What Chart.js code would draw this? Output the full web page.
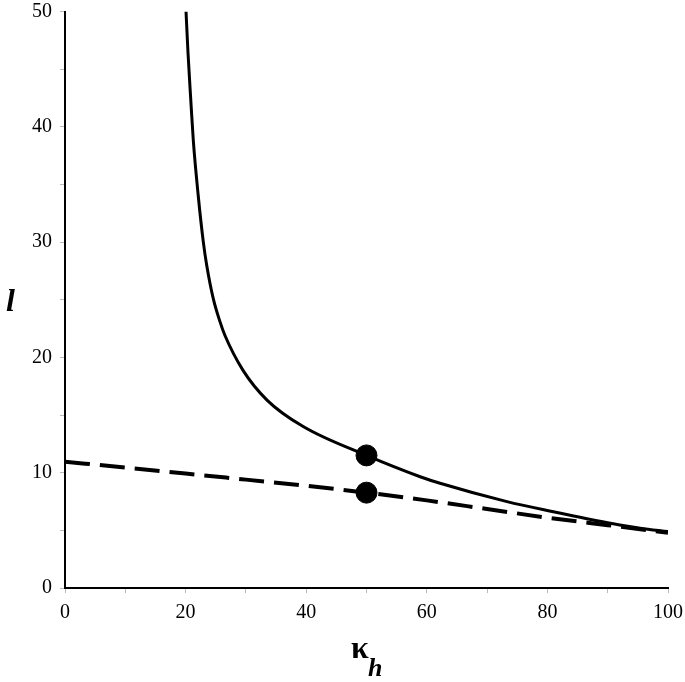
<!DOCTYPE html>
<html>
<head>
<meta charset="utf-8">
<script src="https://cdn.jsdelivr.net/npm/chart.js@4/dist/chart.umd.min.js"></script>
<style>
  html, body { margin: 0; padding: 0; background: #fff; }
  #wrap { width: 685px; height: 682px; }
</style>
</head>
<body>
<div id="wrap"><canvas id="chart"></canvas></div>
<script>
// ── Data ──────────────────────────────────────────────────
const solidX = [20.07, 20.4, 20.85, 21.28, 22.1, 22.94, 23.5, 24.59, 25.7, 26.53, 29.5, 33.5, 39.5, 50, 58.9, 62.2, 73.3, 81, 92, 95.4, 100];
const solidY = [50, 46.4, 42.4, 38.8, 34.0, 30.0, 28.0, 25.1, 23.1, 21.9, 18.9, 16.3, 14.0, 11.5, 9.65, 9.08, 7.49, 6.62, 5.47, 5.19, 4.89];

const dashX = [0, 10, 20, 30, 40, 50, 60, 70, 80, 90, 100];
const dashY = [10.95, 10.45, 9.93, 9.4, 8.87, 8.27, 7.6, 6.85, 6.1, 5.45, 4.8];

const markerX = [50, 50];
const markerY = [11.5, 8.27];

const xTickLabels = [0, 20, 40, 60, 80, 100];
const yTickLabels = [0, 10, 20, 30, 40, 50];

const pts = (xs, ys) => xs.map((x, i) => ({ x, y: ys[i] }));

// ── Axis titles (κ with subscript h, italic l) ────────────
const titlesPlugin = {
  id: "titles",
  afterDraw(chart) {
    const ctx = chart.ctx;
    ctx.save();
    ctx.fillStyle = "#000";
    ctx.textBaseline = "alphabetic";
    ctx.textAlign = "left";
    ctx.font = "bold 32px 'Liberation Serif'";
    ctx.fillText("κ", 351, 658);
    ctx.font = "bold italic 26px 'Liberation Serif'";
    ctx.fillText("h", 368, 676);
    ctx.font = "bold italic 32px 'Liberation Serif'";
    ctx.fillText("l", 6, 311);
    ctx.restore();
  }
};

const tickFont = { family: "'Liberation Serif'", size: 20 };

new Chart(document.getElementById("chart"), {
  type: "scatter",
  data: {
    datasets: [
      {
        data: pts(markerX, markerY),
        pointRadius: 10.5,
        pointBackgroundColor: "#000",
        pointBorderColor: "#000",
        showLine: false,
        order: 0,
      },
      {
        data: pts(solidX, solidY),
        showLine: true,
        borderColor: "#000",
        borderWidth: 3,
        pointRadius: 0,
        cubicInterpolationMode: "monotone",
        order: 1,
      },
      {
        data: pts(dashX, dashY),
        showLine: true,
        borderColor: "#000",
        borderWidth: 4,
        borderDash: [25, 10],
        pointRadius: 0,
        cubicInterpolationMode: "monotone",
        order: 2,
      },
    ]
  },
  options: {
    responsive: true,
    maintainAspectRatio: false,
    animation: false,
    layout: { padding: { left: 0, right: 17, top: 10, bottom: 0 } },
    plugins: { legend: { display: false }, tooltip: { enabled: false } },
    scales: {
      x: {
        type: "linear",
        min: 0, max: 100,
        border: { color: "#000", width: 2 },
        grid: { drawOnChartArea: false, drawTicks: true, tickLength: 5, tickColor: "#bbb" },
        ticks: {
          stepSize: 10,
          color: "#000",
          font: tickFont,
          padding: 8,
          maxRotation: 0,
          autoSkip: false,
          callback: v => xTickLabels.includes(v) ? String(v) : "",
        },
        afterFit: s => { s.height = 94; s.paddingLeft = 0; s.paddingRight = 0; },
      },
      y: {
        type: "linear",
        min: 0, max: 50,
        border: { color: "#000", width: 2 },
        grid: { drawOnChartArea: false, drawTicks: true, tickLength: 5, tickColor: "#bbb" },
        ticks: {
          stepSize: 5,
          color: "#000",
          font: tickFont,
          padding: 8,
          autoSkip: false,
          callback: v => yTickLabels.includes(v) ? String(v) : "",
        },
        afterFit: s => { s.width = 65; s.paddingTop = 0; s.paddingBottom = 0; },
      }
    }
  },
  plugins: [titlesPlugin]
});
</script>
</body>
</html>
